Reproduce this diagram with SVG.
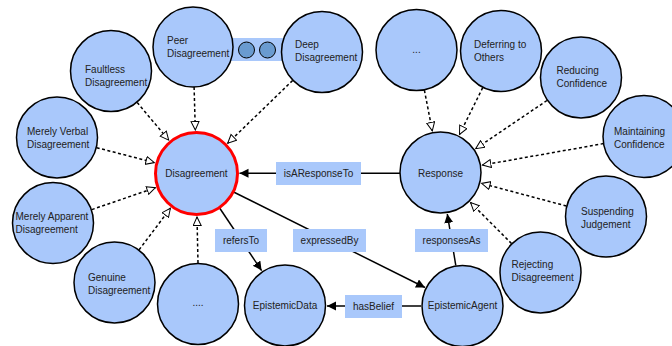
<svg xmlns="http://www.w3.org/2000/svg" width="672" height="346" viewBox="0 0 672 346">
<defs>
<style>
.n{fill:#a9c8fb;stroke:#000;stroke-width:1.5}
.red{fill:#a9c8fb;stroke:#ff0000;stroke-width:3}
.t{font-family:"Liberation Sans",Arial,sans-serif;font-size:10px;fill:#222}
.c{text-anchor:middle}
.d{fill:none;stroke:#000;stroke-width:1.5;stroke-dasharray:3 2.5;marker-end:url(#open)}
.s{fill:none;stroke:#000;stroke-width:1.5;marker-end:url(#fill)}
.lb{fill:#a9c8fb}
</style>
<marker id="open" markerUnits="userSpaceOnUse" markerWidth="12" markerHeight="12" refX="9" refY="4.5" orient="auto">
<path d="M0.5,0.5 L9,4.5 L0.5,8.5 z" fill="#fff" stroke="#000" stroke-width="1"/>
</marker>
<marker id="fill" markerUnits="userSpaceOnUse" markerWidth="12" markerHeight="12" refX="9" refY="4.5" orient="auto">
<path d="M0,0 L9,4.5 L0,9 z" fill="#000"/>
</marker>
</defs>
<g id="connectors">
<rect x="228" y="38" width="58" height="23" class="lb"/>
<line class="d" x1="194.1" y1="87" x2="195.3" y2="130"/>
<line class="d" x1="137.2" y1="102.5" x2="168.7" y2="140.1"/>
<line class="d" x1="292.6" y1="80.5" x2="227.7" y2="143.3"/>
<line class="d" x1="96.7" y1="147.7" x2="154.4" y2="162.6"/>
<line class="d" x1="91.8" y1="209.6" x2="155.4" y2="187.7"/>
<line class="d" x1="139.1" y1="249.8" x2="170.4" y2="208.3"/>
<line class="d" x1="198" y1="263" x2="197" y2="217"/>
<line class="d" x1="424.4" y1="90.2" x2="432.3" y2="130.8"/>
<line class="d" x1="482.7" y1="87.7" x2="459.5" y2="134.5"/>
<line class="d" x1="547" y1="100.5" x2="475.7" y2="148.7"/>
<line class="d" x1="603.6" y1="143.6" x2="482.4" y2="165.1"/>
<line class="d" x1="566.4" y1="206" x2="481.6" y2="183.4"/>
<line class="d" x1="511.5" y1="243.5" x2="470.6" y2="202.6"/>
<line class="s" x1="400" y1="173.3" x2="239.5" y2="173.3"/>
<line class="s" x1="219.6" y1="208" x2="261.6" y2="270.6"/>
<line class="s" x1="233.6" y1="192" x2="425" y2="287.5"/>
<line class="s" x1="421" y1="306" x2="327" y2="306"/>
<line class="s" x1="455.8" y1="265.5" x2="447.3" y2="214"/>
<rect x="276" y="162" width="85" height="23" class="lb"/>
<text class="t c" x="318.5" y="177">isAResponseTo</text>
<rect x="215" y="229" width="52" height="23" class="lb"/>
<text class="t c" x="241" y="244">refersTo</text>
<rect x="293" y="229" width="73" height="23" class="lb"/>
<text class="t c" x="329.5" y="244">expressedBy</text>
<rect x="415" y="229" width="73" height="23" class="lb"/>
<text class="t c" x="451.5" y="244">responsesAs</text>
<rect x="345" y="295" width="57" height="23" class="lb"/>
<text class="t c" x="373.5" y="310">hasBelief</text>
</g>
<g id="peer-deep-link">
<circle cx="246.5" cy="50" r="8" fill="#6a9bd0" stroke="#000" stroke-width="1"/>
<circle cx="267.5" cy="50" r="8" fill="#6a9bd0" stroke="#000" stroke-width="1"/>
</g>
<g id="disagreement"><circle class="red" cx="196.5" cy="173.5" r="41"/><text class="t c" x="196.5" y="177">Disagreement</text></g>
<g id="peer"><circle class="n" cx="193" cy="47" r="40"/><text class="t" x="167" y="44">Peer</text><text class="t" x="167" y="57">Disagreement</text></g>
<g id="deep"><circle class="n" cx="322" cy="52" r="40.5"/><text class="t" x="295" y="48">Deep</text><text class="t" x="295" y="61">Disagreement</text></g>
<g id="faultless"><circle class="n" cx="111" cy="71" r="40.5"/><text class="t" x="85" y="73">Faultless</text><text class="t" x="85" y="86">Disagreement</text></g>
<g id="merely-verbal"><circle class="n" cx="57" cy="137.5" r="40.5"/><text class="t" x="27" y="135">Merely Verbal</text><text class="t" x="27" y="148">Disagreement</text></g>
<g id="merely-apparent"><circle class="n" cx="53" cy="223" r="40.5"/><text class="t" x="15.5" y="220">Merely Apparent</text><text class="t" x="15.5" y="233">Disagreement</text></g>
<g id="genuine"><circle class="n" cx="114.5" cy="282.5" r="40.5"/><text class="t" x="88" y="281">Genuine</text><text class="t" x="88" y="294">Disagreement</text></g>
<g id="more-disagreement"><circle class="n" cx="198" cy="304" r="40.5"/><text class="t c" x="198" y="306">....</text></g>
<g id="epistemic-data"><circle class="n" cx="285" cy="305.5" r="40.5"/><text class="t c" x="285" y="309">EpistemicData</text></g>
<g id="epistemic-agent"><circle class="n" cx="462.5" cy="306" r="40.5"/><text class="t c" x="462.5" y="309">EpistemicAgent</text></g>
<g id="response"><circle class="n" cx="440.5" cy="172.5" r="40.5"/><text class="t c" x="440.5" y="176.5">Response</text></g>
<g id="more-response"><circle class="n" cx="416.5" cy="50" r="40.5"/><text class="t c" x="416.5" y="53">...</text></g>
<g id="deferring"><circle class="n" cx="501" cy="51" r="40.5"/><text class="t" x="474" y="48">Deferring to</text><text class="t" x="474" y="61">Others</text></g>
<g id="reducing"><circle class="n" cx="581" cy="77.5" r="40.5"/><text class="t" x="556.5" y="74">Reducing</text><text class="t" x="556.5" y="87">Confidence</text></g>
<g id="maintaining"><circle class="n" cx="644" cy="136.5" r="41"/><text class="t" x="614" y="135">Maintaining</text><text class="t" x="614" y="148">Confidence</text></g>
<g id="suspending"><circle class="n" cx="606" cy="216.5" r="40.5"/><text class="t" x="581" y="215">Suspending</text><text class="t" x="581" y="228">Judgement</text></g>
<g id="rejecting"><circle class="n" cx="540.5" cy="272.5" r="40.5"/><text class="t" x="511.5" y="268">Rejecting</text><text class="t" x="511.5" y="281">Disagreement</text></g>
</svg>
